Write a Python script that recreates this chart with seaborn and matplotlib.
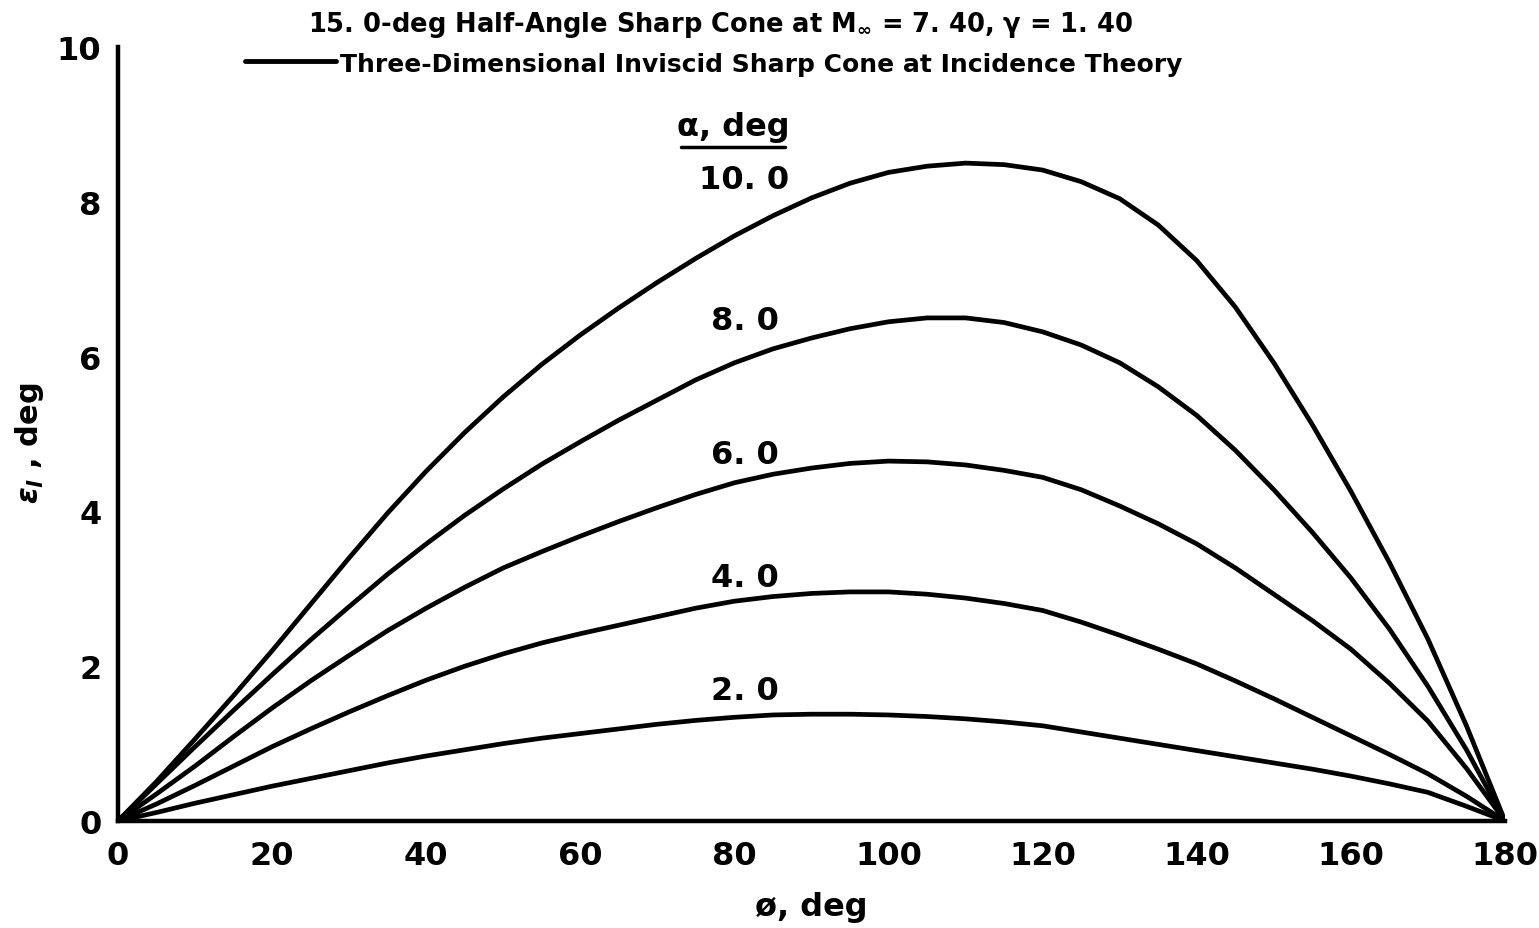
import numpy as np
import pandas as pd
import matplotlib
matplotlib.use("Agg")
import matplotlib.pyplot as plt
from matplotlib.lines import Line2D
import seaborn as sns

# ---- data ----
phi = [0, 5, 10, 15, 20, 25, 30, 35, 40, 45, 50, 55, 60, 65, 70, 75, 80, 85, 90,
       95, 100, 105, 110, 115, 120, 125, 130, 135, 140, 145, 150, 155, 160, 165, 170, 175, 180]
eps_a2 = [0, 0.11, 0.23, 0.34, 0.45, 0.55, 0.65, 0.75, 0.84, 0.92, 1.00, 1.07, 1.13, 1.19, 1.25, 1.30, 1.34, 1.37, 1.38,
          1.38, 1.37, 1.35, 1.32, 1.28, 1.23, 1.15, 1.07, 0.99, 0.91, 0.83, 0.75, 0.67, 0.58, 0.48, 0.37, 0.19, 0]
eps_a4 = [0, 0.22, 0.46, 0.71, 0.96, 1.19, 1.41, 1.62, 1.82, 2.00, 2.16, 2.30, 2.42, 2.53, 2.64, 2.75, 2.84, 2.90, 2.94,
          2.96, 2.96, 2.93, 2.88, 2.81, 2.72, 2.57, 2.40, 2.22, 2.03, 1.81, 1.58, 1.34, 1.10, 0.86, 0.61, 0.32, 0]
eps_a6 = [0, 0.35, 0.71, 1.09, 1.46, 1.81, 2.14, 2.46, 2.75, 3.02, 3.27, 3.48, 3.68, 3.87, 4.05, 4.22, 4.37, 4.48, 4.56,
          4.62, 4.65, 4.64, 4.60, 4.53, 4.44, 4.28, 4.07, 3.84, 3.58, 3.27, 2.93, 2.59, 2.22, 1.78, 1.29, 0.68, 0]
eps_a8 = [0, 0.48, 0.96, 1.43, 1.89, 2.34, 2.77, 3.19, 3.58, 3.95, 4.29, 4.61, 4.90, 5.18, 5.44, 5.70, 5.92, 6.10, 6.24,
          6.36, 6.45, 6.50, 6.50, 6.44, 6.32, 6.15, 5.92, 5.61, 5.24, 4.79, 4.28, 3.73, 3.14, 2.48, 1.74, 0.92, 0]
eps_a10 = [0, 0.51, 1.06, 1.62, 2.20, 2.80, 3.40, 3.98, 4.52, 5.02, 5.48, 5.90, 6.28, 6.63, 6.96, 7.27, 7.56, 7.82, 8.05,
           8.24, 8.38, 8.46, 8.50, 8.48, 8.41, 8.26, 8.04, 7.70, 7.24, 6.64, 5.92, 5.12, 4.26, 3.34, 2.35, 1.23, 0]
alpha_labels = ["2. 0", "4. 0", "6. 0", "8. 0", "10. 0"]
series = [eps_a2, eps_a4, eps_a6, eps_a8, eps_a10]
x_ticks = [0, 20, 40, 60, 80, 100, 120, 140, 160, 180]
y_ticks = [0, 2, 4, 6, 8, 10]

df = pd.concat([pd.DataFrame({"phi": phi, "eps": s, "alpha": lab})
                for s, lab in zip(series, alpha_labels)], ignore_index=True)

sns.set_theme(style="white")
FONT = ["DejaVu Sans"]
plt.rcParams["font.family"] = FONT
plt.rcParams["font.weight"] = "bold"
plt.rcParams["mathtext.fontset"] = "dejavusans"
plt.rcParams["text.color"] = "black"
plt.rcParams["axes.labelcolor"] = "black"

fig = plt.figure(figsize=(15.39, 9.29), dpi=100)
ax = fig.add_axes([118 / 1539, 1 - 822 / 929, (1505 - 118) / 1539, (822 - 48) / 929])

sns.lineplot(data=df, x="phi", y="eps", hue="alpha", palette=["black"] * 5,
             linewidth=3.4, legend=False, ax=ax, sort=False)

ax.set_xlim(0, 180)
ax.set_ylim(0, 10)
ax.set_xticks(x_ticks)
ax.set_yticks(y_ticks)
for s in ["top", "right"]:
    ax.spines[s].set_visible(False)
for s in ["left", "bottom"]:
    ax.spines[s].set_color("black")
    ax.spines[s].set_linewidth(3.2)
ax.tick_params(axis="both", direction="in", length=13, width=2.4, colors="black",
               labelsize=23, pad=12)
ax.tick_params(axis="x", pad=14)
for lab in ax.get_xticklabels() + ax.get_yticklabels():
    lab.set_fontweight("bold")

ax.set_xlabel("ø, deg", fontsize=23, fontweight="bold", labelpad=14)
ax.set_ylabel(r"$\varepsilon_l$ , deg", fontsize=22, fontweight="bold")
ax.yaxis.set_label_coords(-0.052, 0.49)

# curve labels
label_x = 81.3
label_y = [1.68, 3.15, 4.74, 6.46, 8.29]
for lab, yy in zip(alpha_labels, label_y):
    ax.text(label_x, yy, lab, ha="center", va="center", fontsize=23, fontweight="bold")
ax.text(79.8, 8.97, "α, deg", ha="center", va="center", fontsize=23, fontweight="bold")
ax.plot([73.0, 86.6], [8.71, 8.71], color="black", lw=2.5, clip_on=False)

# header
fig.text(0.468, 1 - 25 / 929, r"15. 0-deg Half-Angle Sharp Cone at M$_\infty$ = 7. 40, γ = 1. 40",
         ha="center", va="center", fontsize=18.5, fontweight="bold")
fig.text(340 / 1539, 1 - 65 / 929, "Three-Dimensional Inviscid Sharp Cone at Incidence Theory",
         ha="left", va="center", fontsize=18, fontweight="bold")
fig.add_artist(Line2D([245 / 1539, 336 / 1539], [1 - 62 / 929, 1 - 62 / 929],
                      color="black", lw=3.5, transform=fig.transFigure))

fig.savefig("out.png", dpi=100, facecolor="white")
